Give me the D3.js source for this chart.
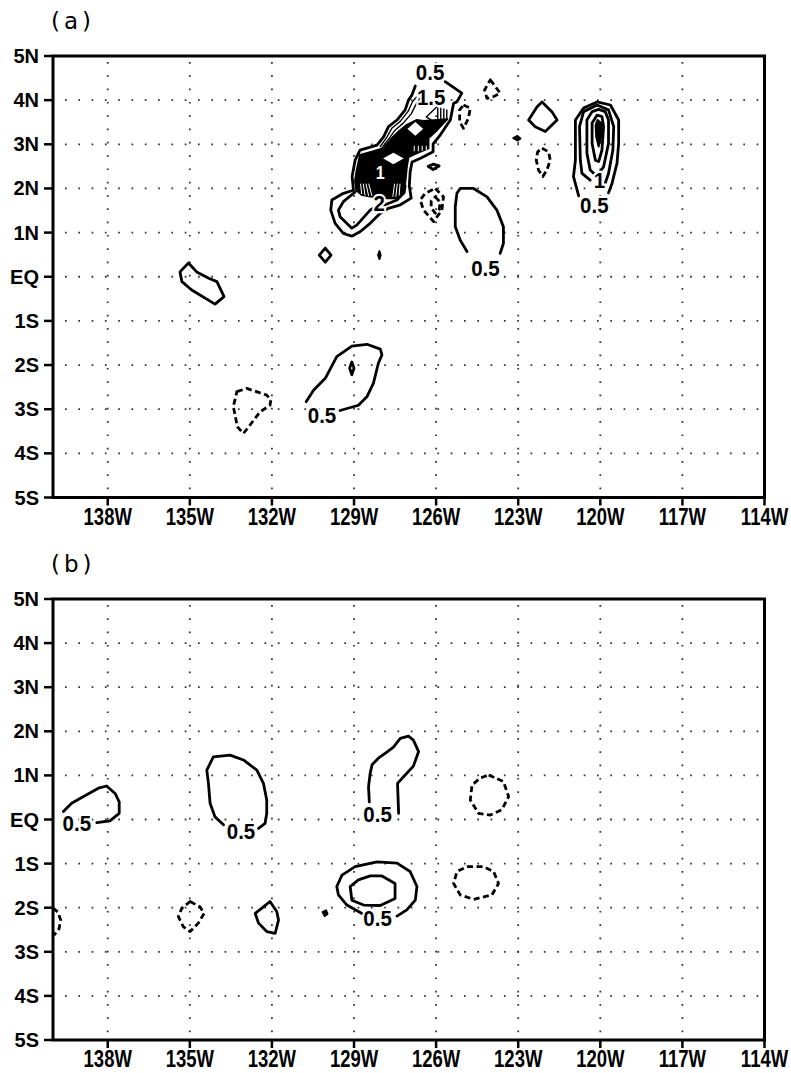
<!DOCTYPE html>
<html><head><meta charset="utf-8">
<script src="https://cdn.jsdelivr.net/npm/d3@7"></script>
<style>body{margin:0;background:#fff}</style>
</head><body>
<svg id="c" width="791" height="1073"></svg>
<script>
// ---------- axis data ----------
const lonTicks = [138,135,132,129,126,123,120,117,114];
const lonLabels = ["138W","135W","132W","129W","126W","123W","120W","117W","114W"];
const latTicks = [5,4,3,2,1,0,-1,-2,-3,-4,-5];
const latLabels = ["5N","4N","3N","2N","1N","EQ","1S","2S","3S","4S","5S"];
const latGrid = [4,3,2,1,0,-1,-2,-3,-4];
const lonGrid = [138,135,132,129,126,123,120,117];
const panelTitles = ["(a)","(b)"];

// ---------- panel (a) contours: [lonW, lat] ----------
const A_eqBlob = [[135.05,0.31],[135.36,0.11],[135.29,-0.11],[134.93,-0.30],[134.08,-0.62],[133.75,-0.45],[134.01,-0.11],[134.29,-0.04],[134.75,0.11]];
const A_dash133 = [[133.28,-2.60],[132.92,-2.53],[132.19,-2.68],[132.04,-2.79],[132.07,-2.91],[132.43,-3.06],[133.04,-3.55],[133.26,-3.40],[133.41,-2.94]];
const A_south129 = [[130.75,-2.83],[130.48,-2.57],[130.05,-2.30],[129.63,-1.81],[129.08,-1.57],[128.53,-1.53],[128.04,-1.64],[127.98,-1.77],[128.11,-1.96],[128.29,-2.41],[128.53,-2.72],[128.84,-2.91],[129.51,-3.03]];
const A_diam129S = [[129.08,-1.93],[129.0,-2.07],[129.08,-2.22],[129.16,-2.07]];
const A_diam130N = [[130.05,0.65],[129.84,0.49],[130.05,0.33],[130.27,0.49]];
const A_dot128 = [[128.07,0.58],[128.03,0.49],[128.07,0.40],[128.12,0.49]];
const A_clusterOuter = [[125.67,4.42],[125.06,4.16],[125.24,3.96],[125.36,3.93],[125.48,3.55],[125.85,3.21],[126.11,3.01],[126.11,2.83],[126.55,2.69],[126.88,2.60],[126.95,2.37],[126.98,2.06],[126.91,1.78],[127.31,1.63],[127.74,1.55],[128.04,1.44],[128.41,1.21],[128.78,1.02],[129.08,0.92],[129.39,0.98],[129.69,1.21],[129.85,1.51],[129.81,1.74],[129.39,1.89],[129.02,1.96],[129.07,2.27],[128.96,2.64],[128.78,2.87],[128.16,2.98],[127.92,3.17],[127.74,3.40],[127.43,3.55],[127.13,3.78],[127.01,4.00],[126.88,4.12],[126.76,4.32]];
const A_clusterInner = [[128.96,1.92],[129.39,1.70],[129.57,1.51],[129.51,1.36],[129.08,1.10],[128.90,1.17],[128.41,1.51],[128.16,1.59],[127.86,1.63],[127.43,1.74],[127.17,1.90],[127.13,2.06]];
const A_clusterThin1 = [[128.04,2.95],[127.81,3.15],[127.61,3.37],[127.31,3.52],[127.02,3.75],[126.87,3.96],[126.69,4.09]];
const A_clusterThin2 = [[127.97,2.93],[127.71,3.14],[127.50,3.32],[127.20,3.48],[126.91,3.69],[126.73,3.91],[126.58,4.05]];
const A_clusterRight = [[125.74,4.05],[125.97,3.85],[126.36,3.62],[126.07,3.51]];
const A_clusterCore = [[126.46,3.53],[125.59,3.57],[125.97,3.32],[126.28,3.14],[126.28,2.91],[126.70,2.80],[127.01,2.71],[127.07,2.49],[127.13,2.12],[127.20,1.90],[127.44,1.78],[127.80,1.78],[128.33,1.81],[128.71,1.85],[128.92,1.96],[128.96,2.19],[128.90,2.42],[128.78,2.76],[128.35,2.83],[127.92,2.91],[127.62,3.14],[127.37,3.29],[127.07,3.44],[126.70,3.55]];
const A_coreHoleLow = [[127.99,2.68],[127.56,2.83],[127.13,2.68],[127.56,2.53]];
const A_coreHoleUp = [[127.09,3.35],[126.76,3.53],[126.43,3.35],[126.76,3.17]];
const A_hatch1 = [[125.94,3.82],[125.94,3.55]];
const A_hatch2 = [[125.83,3.82],[125.83,3.55]];
const A_hatch3 = [[125.72,3.80],[125.72,3.55]];
const A_hatch4 = [[125.61,3.78],[125.61,3.57]];
// gaps between packed contours (pale streaks in the dark core)
const A_gap1 = [[128.76,2.10],[128.72,1.88]];
const A_gap2 = [[128.66,2.10],[128.60,1.85]];
const A_gap3 = [[128.56,2.10],[128.47,1.84]];
const A_gap4 = [[128.46,2.10],[128.35,1.84]];
const A_gap5 = [[127.52,2.10],[127.58,1.82]];
const A_gap6 = [[127.42,2.10],[127.47,1.82]];
const A_gap7 = [[127.32,2.10],[127.35,1.85]];
const A_gap8 = [[126.80,2.96],[126.80,2.85]];
const A_gap9 = [[126.65,2.96],[126.65,2.85]];
const A_gap10 = [[126.51,2.96],[126.51,2.86]];
const A_gap11 = [[126.36,2.96],[126.36,2.88]];
const A_lens126 = [[126.29,2.50],[126.11,2.55],[125.89,2.51],[126.11,2.43]];
const A_dash126out = [[126.03,2.00],[125.73,1.81],[125.79,1.51],[126.09,1.25],[126.46,1.51],[126.58,1.74],[126.40,1.89]];
const A_dash126in = [[126.03,1.81],[125.85,1.69],[125.89,1.51],[126.03,1.44],[126.18,1.56],[126.18,1.72]];
const A_east125 = [[124.87,0.57],[125.12,0.83],[125.30,1.13],[125.30,1.59],[125.24,1.89],[125.12,2.00],[124.63,2.00],[124.14,1.81],[123.78,1.51],[123.54,1.13],[123.54,0.76],[123.66,0.53]];
const A_dashTri124 = [[124.02,4.46],[123.66,4.16],[123.90,4.08],[124.14,4.04],[124.23,4.23]];
const A_dash125 = [[125.00,3.89],[124.75,3.82],[124.82,3.59],[125.00,3.36],[125.14,3.51],[125.14,3.78]];
const A_pent122 = [[122.13,3.96],[121.77,3.74],[121.58,3.55],[122.01,3.29],[122.38,3.40],[122.62,3.55],[122.31,3.85]];
const A_dot123 = [[123.18,3.14],[123.03,3.19],[122.92,3.13],[123.03,3.09]];
const A_dash122 = [[122.13,2.91],[121.89,2.83],[121.83,2.64],[121.95,2.42],[122.10,2.27],[122.26,2.42],[122.34,2.64],[122.29,2.83]];
const A_ring1 = [[120.79,1.83],[120.98,2.27],[120.91,2.64],[120.91,3.10],[120.91,3.55],[120.61,3.82],[120.12,3.96],[119.63,3.89],[119.33,3.55],[119.33,3.02],[119.39,2.57],[119.57,2.12],[119.70,1.90]];
const A_ring2 = [[120.37,2.19],[120.67,2.34],[120.73,2.64],[120.76,3.40],[120.61,3.74],[120.12,3.89],[119.70,3.78],[119.51,3.40],[119.54,2.87],[119.70,2.34],[119.82,2.12]];
const A_ring3 = [[120.49,3.55],[120.30,3.74],[120.06,3.79],[119.82,3.74],[119.70,3.55],[119.70,3.02],[119.88,2.49],[120.12,2.27],[120.37,2.42],[120.49,2.80]];
const A_ring4 = [[120.30,3.48],[120.12,3.66],[119.94,3.63],[119.88,3.40],[119.94,2.87],[120.06,2.61],[120.18,2.64],[120.30,3.02]];
const A_core120 = [[120.10,3.55],[119.97,3.48],[119.97,3.17],[120.06,2.95],[120.15,3.17],[120.17,3.44]];
const A_labels = [["0.5",126.22,4.63],["1.5",126.18,4.05],["2",128.08,1.65],["0.5",124.20,0.19],["1",120.03,2.17],["0.5",120.22,1.60],["0.5",130.17,-3.15]];
const A_whiteLabels = [["1",128.04,2.36]];

// ---------- panel (b) contours ----------
const B_west138 = [[139.62,0.18],[139.32,0.37],[138.77,0.56],[138.34,0.71],[138.04,0.76],[137.73,0.59],[137.58,0.40],[137.58,0.14],[137.92,-0.03],[138.40,-0.07]];
const B_west134 = [[132.49,-0.20],[132.25,-0.09],[132.19,0.14],[132.19,0.44],[132.31,0.82],[132.55,1.12],[133.04,1.35],[133.53,1.46],[134.14,1.42],[134.38,1.12],[134.32,0.82],[134.26,0.37],[134.08,0.06],[133.77,-0.12]];
const B_mid127 = [[128.44,0.40],[128.47,0.74],[128.41,1.05],[128.34,1.24],[128.11,1.39],[127.80,1.53],[127.56,1.64],[127.31,1.84],[127.01,1.89],[126.83,1.80],[126.64,1.54],[126.83,1.21],[127.19,0.97],[127.41,0.82],[127.37,0.14]];
const B_dash124N = [[124.08,1.01],[123.54,0.86],[123.35,0.52],[123.60,0.22],[124.02,0.10],[124.45,0.14],[124.75,0.44],[124.69,0.78],[124.39,0.94]];
const B_dash124S = [[124.87,-1.07],[124.27,-1.07],[123.90,-1.18],[123.72,-1.45],[123.96,-1.71],[124.63,-1.81],[125.12,-1.71],[125.36,-1.45],[125.24,-1.18]];
const B_outer128 = [[127.43,-2.19],[127.07,-2.05],[126.76,-1.83],[126.70,-1.52],[126.95,-1.18],[127.43,-0.99],[128.16,-0.96],[128.96,-1.07],[129.44,-1.26],[129.63,-1.52],[129.57,-1.71],[129.26,-1.94],[128.71,-2.13]];
const B_inner128 = [[129.14,-1.52],[128.84,-1.37],[128.41,-1.28],[127.98,-1.28],[127.50,-1.45],[127.50,-1.79],[128.04,-1.95],[128.65,-1.94],[129.08,-1.83]];
const B_dot130 = [[130.15,-2.10],[130.02,-2.06],[129.97,-2.14],[130.07,-2.19]];
const B_dash135 = [[134.99,-1.86],[134.63,-1.98],[134.48,-2.13],[134.69,-2.35],[134.99,-2.54],[135.24,-2.43],[135.42,-2.20],[135.29,-2.01]];
const B_solid132 = [[132.07,-1.86],[131.82,-2.09],[131.76,-2.28],[131.88,-2.58],[132.19,-2.54],[132.49,-2.35],[132.61,-2.13],[132.31,-1.98]];
const B_dashEdge = [[140.00,-2.01],[139.82,-2.10],[139.72,-2.28],[139.78,-2.48],[139.96,-2.62]];
const B_labels = [["0.5",139.13,-0.10],["0.5",133.13,-0.28],["0.5",128.14,0.10],["0.5",128.14,-2.26]];

// ---------- grouping by line type ----------
const A_solidOpen = [A_south129, A_clusterOuter, A_clusterInner, A_east125, A_ring1, A_ring2];
const A_solidClosed = [A_eqBlob, A_diam129S, A_diam130N, A_pent122, A_ring3, A_ring4, A_lens126];
const A_dashClosed = [A_dash133, A_dash126out, A_dash126in, A_dashTri124, A_dash125, A_dash122];
const A_thin = [A_clusterThin1, A_clusterThin2, A_clusterRight, A_hatch1, A_hatch2, A_hatch3, A_hatch4];
const A_gaps = [A_gap1, A_gap2, A_gap3, A_gap4, A_gap5, A_gap6, A_gap7, A_gap8, A_gap9, A_gap10, A_gap11];
const A_filled = [A_dot128, A_clusterCore, A_dot123, A_core120];
const A_holes = [A_coreHoleLow, A_coreHoleUp];

const B_solidOpen = [B_west138, B_west134, B_mid127, B_outer128];
const B_solidClosed = [B_inner128, B_solid132];
const B_dashClosed = [B_dash124N, B_dash124S, B_dash135];
const B_dashOpen = [B_dashEdge];
const B_filled = [B_dot130];

// ---------- layout ----------
const left = 53, right = 764.5;
const panelBox = [{top:56, bottom:497.5, titleY:29}, {top:599, bottom:1040, titleY:572}];

const svg = d3.select("#c");
const x = d3.scaleLinear().domain([140,114]).range([left,right]);

function drawPanel(p, idx, sets){
  const y = d3.scaleLinear().domain([-5,5]).range([p.bottom,p.top]);
  const g = svg.append("g");
  const lineOpen = d3.line().x(d=>x(d[0])).y(d=>y(d[1])).curve(d3.curveLinear);
  const lineClosed = d3.line().x(d=>x(d[0])).y(d=>y(d[1])).curve(d3.curveLinearClosed);

  const cid = "clip"+idx;
  svg.append("clipPath").attr("id",cid).append("rect")
    .attr("x",left).attr("y",p.top).attr("width",right-left).attr("height",p.bottom-p.top);

  // dotted grid
  const grid = g.append("g").attr("stroke","#333").attr("stroke-width",1.8)
     .attr("stroke-dasharray","1.7,11.6").attr("fill","none");
  grid.selectAll("line.h").data(latGrid).join("line")
    .attr("x1",left+12).attr("x2",right).attr("y1",d=>y(d)).attr("y2",d=>y(d));
  grid.selectAll("line.v").data(lonGrid).join("line")
    .attr("y1",p.top+6).attr("y2",p.bottom).attr("x1",d=>x(d)).attr("x2",d=>x(d));

  const c = g.append("g").attr("clip-path",`url(#${cid})`)
    .attr("stroke-linejoin","round").attr("stroke-linecap","round");
  c.selectAll("path.so").data(sets.solidOpen).join("path")
    .attr("d",lineOpen).attr("fill","none").attr("stroke","#000").attr("stroke-width",2.8);
  c.selectAll("path.sc").data(sets.solidClosed).join("path")
    .attr("d",lineClosed).attr("fill","none").attr("stroke","#000").attr("stroke-width",2.8);
  c.selectAll("path.dc").data(sets.dashClosed).join("path")
    .attr("d",lineClosed).attr("fill","none").attr("stroke","#000").attr("stroke-width",2.8)
    .attr("stroke-linecap","butt").attr("stroke-dasharray","6,3.5");
  c.selectAll("path.do").data(sets.dashOpen).join("path")
    .attr("d",lineOpen).attr("fill","none").attr("stroke","#000").attr("stroke-width",2.8)
    .attr("stroke-linecap","butt").attr("stroke-dasharray","6,3.5");
  c.selectAll("path.fi").data(sets.filled).join("path")
    .attr("d",lineClosed).attr("fill","#000").attr("stroke","#000").attr("stroke-width",2);
  c.selectAll("path.th").data(sets.thin).join("path")
    .attr("d",lineOpen).attr("fill","none").attr("stroke","#000").attr("stroke-width",1.4);
  c.selectAll("path.ga").data(sets.gaps).join("path")
    .attr("d",lineOpen).attr("fill","none").attr("stroke","#fff").attr("stroke-width",1);
  c.selectAll("path.ho").data(sets.holes).join("path")
    .attr("d",lineClosed).attr("fill","#fff").attr("stroke","#000").attr("stroke-width",1.5);

  // contour labels
  const lab = g.append("g");
  lab.selectAll("text.k").data(sets.labels).join("text")
    .attr("transform",d=>`translate(${x(d[1])},${y(d[2])}) scale(1,1.1)`)
    .attr("text-anchor","middle").attr("dominant-baseline","central")
    .attr("font-family","'Liberation Sans', Arial, sans-serif").attr("font-weight","bold")
    .attr("font-size",20.5).attr("fill","#000")
    .attr("stroke","#fff").attr("stroke-width",4).attr("paint-order","stroke")
    .text(d=>d[0]);
  lab.selectAll("text.w").data(sets.whiteLabels).join("text")
    .attr("transform",d=>`translate(${x(d[1])},${y(d[2])}) scale(1,1.2)`)
    .attr("text-anchor","middle").attr("dominant-baseline","central")
    .attr("font-family","'Liberation Sans', Arial, sans-serif").attr("font-weight","bold")
    .attr("font-size",16).attr("fill","#fff")
    .text(d=>d[0]);

  // frame
  g.append("rect").attr("x",left).attr("y",p.top).attr("width",right-left).attr("height",p.bottom-p.top)
    .attr("fill","none").attr("stroke","#000").attr("stroke-width",3);

  // y axis
  g.selectAll("line.yt").data(latTicks).join("line")
    .attr("x1",left-9).attr("x2",left).attr("y1",d=>y(d)).attr("y2",d=>y(d))
    .attr("stroke","#000").attr("stroke-width",2.5);
  g.selectAll("text.yl").data(latTicks).join("text")
    .attr("x",39).attr("y",d=>y(d)).attr("text-anchor","end").attr("dominant-baseline","central")
    .attr("font-family","'Liberation Sans', Arial, sans-serif").attr("font-weight","bold")
    .attr("font-size",20).attr("fill","#000")
    .text((d,i)=>latLabels[i]);

  // x axis
  g.selectAll("line.xt").data(lonTicks).join("line")
    .attr("x1",d=>x(d)).attr("x2",d=>x(d)).attr("y1",p.bottom).attr("y2",p.bottom+8)
    .attr("stroke","#000").attr("stroke-width",2.5);
  g.selectAll("text.xl").data(lonTicks).join("text")
    .attr("transform",d=>`translate(${x(d)},${p.bottom+27}) scale(1,1.3)`)
    .attr("text-anchor","middle")
    .attr("font-family","'Liberation Sans', Arial, sans-serif").attr("font-weight","bold")
    .attr("font-size",18.5).attr("fill","#000")
    .text((d,i)=>lonLabels[i]);

  // panel title
  g.append("text").attr("x",51).attr("y",p.titleY)
    .attr("font-family","'DejaVu Sans', sans-serif").attr("font-size",23)
    .attr("letter-spacing",4).attr("fill","#000").text(panelTitles[idx]);
}

drawPanel(panelBox[0], 0, {solidOpen:A_solidOpen, solidClosed:A_solidClosed, dashClosed:A_dashClosed,
  dashOpen:[], thin:A_thin, gaps:A_gaps, filled:A_filled, holes:A_holes, labels:A_labels, whiteLabels:A_whiteLabels});
drawPanel(panelBox[1], 1, {solidOpen:B_solidOpen, solidClosed:B_solidClosed, dashClosed:B_dashClosed,
  dashOpen:B_dashOpen, thin:[], gaps:[], filled:B_filled, holes:[], labels:B_labels, whiteLabels:[]});
</script>
</body></html>
